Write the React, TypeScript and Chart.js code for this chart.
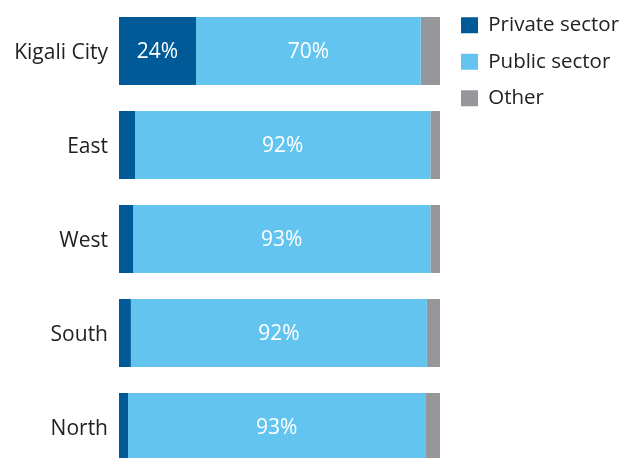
import React, { useEffect, useRef } from "react";
import { Chart, registerables } from "chart.js";

Chart.register(...registerables);

const categories = ["Kigali City", "East", "West", "South", "North"];
const seriesNames = ["Private sector", "Public sector", "Other"];
const privateSector = [24, 5, 4.4, 3.7, 2.8];
const publicSector = [70, 92, 92.6, 92.2, 92.6];
const otherSector = [6, 3, 3.0, 4.1, 4.6];
const seriesColors = ["#005a97", "#63c5ef", "#96979b"];

const FONT = "'Open Sans', 'Noto Sans', sans-serif";

const valueLabels = {
  id: "valueLabels",
  afterDatasetsDraw(chart: any) {
    const ctx = chart.ctx;
    ctx.save();
    ctx.font = `21px ${FONT}`;
    ctx.fillStyle = "#ffffff";
    ctx.textAlign = "center";
    ctx.textBaseline = "middle";
    chart.data.datasets.forEach((ds: any, di: number) => {
      const meta = chart.getDatasetMeta(di);
      meta.data.forEach((el: any, i: number) => {
        const v = ds.data[i];
        if (v < 10) return;
        const p = el.getCenterPoint();
        ctx.fillText(Math.round(v) + "%", p.x, p.y + 1);
      });
    });
    ctx.restore();
  },
};

const legendAdjust = {
  id: "legendAdjust",
  afterInit(chart: any) {
    const lg = chart.legend;
    if (!lg || lg.__patched) return;
    const orig = lg.fit;
    lg.fit = function () {
      orig.call(this);
      this.width = 181;
    };
    lg.__patched = true;
  },
  afterLayout(chart: any) {
    const lg = chart.legend;
    if (!lg) return;
    lg.left += 5;
    lg.right += 5;
    lg.top -= 1;
    lg.bottom -= 1;
  },
};

export default function App() {
  const ref = useRef<HTMLCanvasElement | null>(null);

  useEffect(() => {
    if (!ref.current) return;
    const seriesData = [privateSector, publicSector, otherSector];
    const chart = new Chart(ref.current, {
      type: "bar",
      data: {
        labels: categories,
        datasets: seriesNames.map((name, i) => ({
          label: name,
          data: seriesData[i],
          backgroundColor: seriesColors[i],
          borderWidth: 0,
          barPercentage: 0.7234,
          categoryPercentage: 1,
        })),
      },
      options: {
        indexAxis: "y",
        responsive: false,
        animation: false,
        devicePixelRatio: 1,
        layout: { padding: 0 },
        scales: {
          x: {
            stacked: true,
            min: 0,
            max: 100,
            position: "top",
            grid: { display: false, drawTicks: false },
            border: { display: false },
            ticks: { display: false },
            afterFit: (s: any) => {
              s.height = 4;
              s.paddingLeft = 0;
              s.paddingRight = 0;
            },
          },
          y: {
            stacked: true,
            grid: { display: false, drawTicks: false },
            border: { display: false },
            ticks: {
              padding: 11,
              labelOffset: 2,
              color: "#222222",
              font: { family: FONT, size: 21 },
            },
            afterFit: (s: any) => {
              s.width = 119;
              s.paddingTop = 0;
              s.paddingBottom = 0;
            },
          },
        },
        plugins: {
          legend: {
            position: "right",
            align: "start",
            labels: {
              boxWidth: 17,
              boxHeight: 16,
              padding: 16,
              color: "#222222",
              font: { family: FONT, size: 20.5 },
            },
          },
          tooltip: { enabled: false },
        },
      } as any,
      plugins: [valueLabels, legendAdjust],
    });
    return () => chart.destroy();
  }, []);

  return (
    <div style={{ position: "fixed", left: 0, top: 0, width: 621, height: 474, overflow: "hidden" }}>
      <canvas ref={ref} width={621} height={474} style={{ display: "block" }} />
    </div>
  );
}
